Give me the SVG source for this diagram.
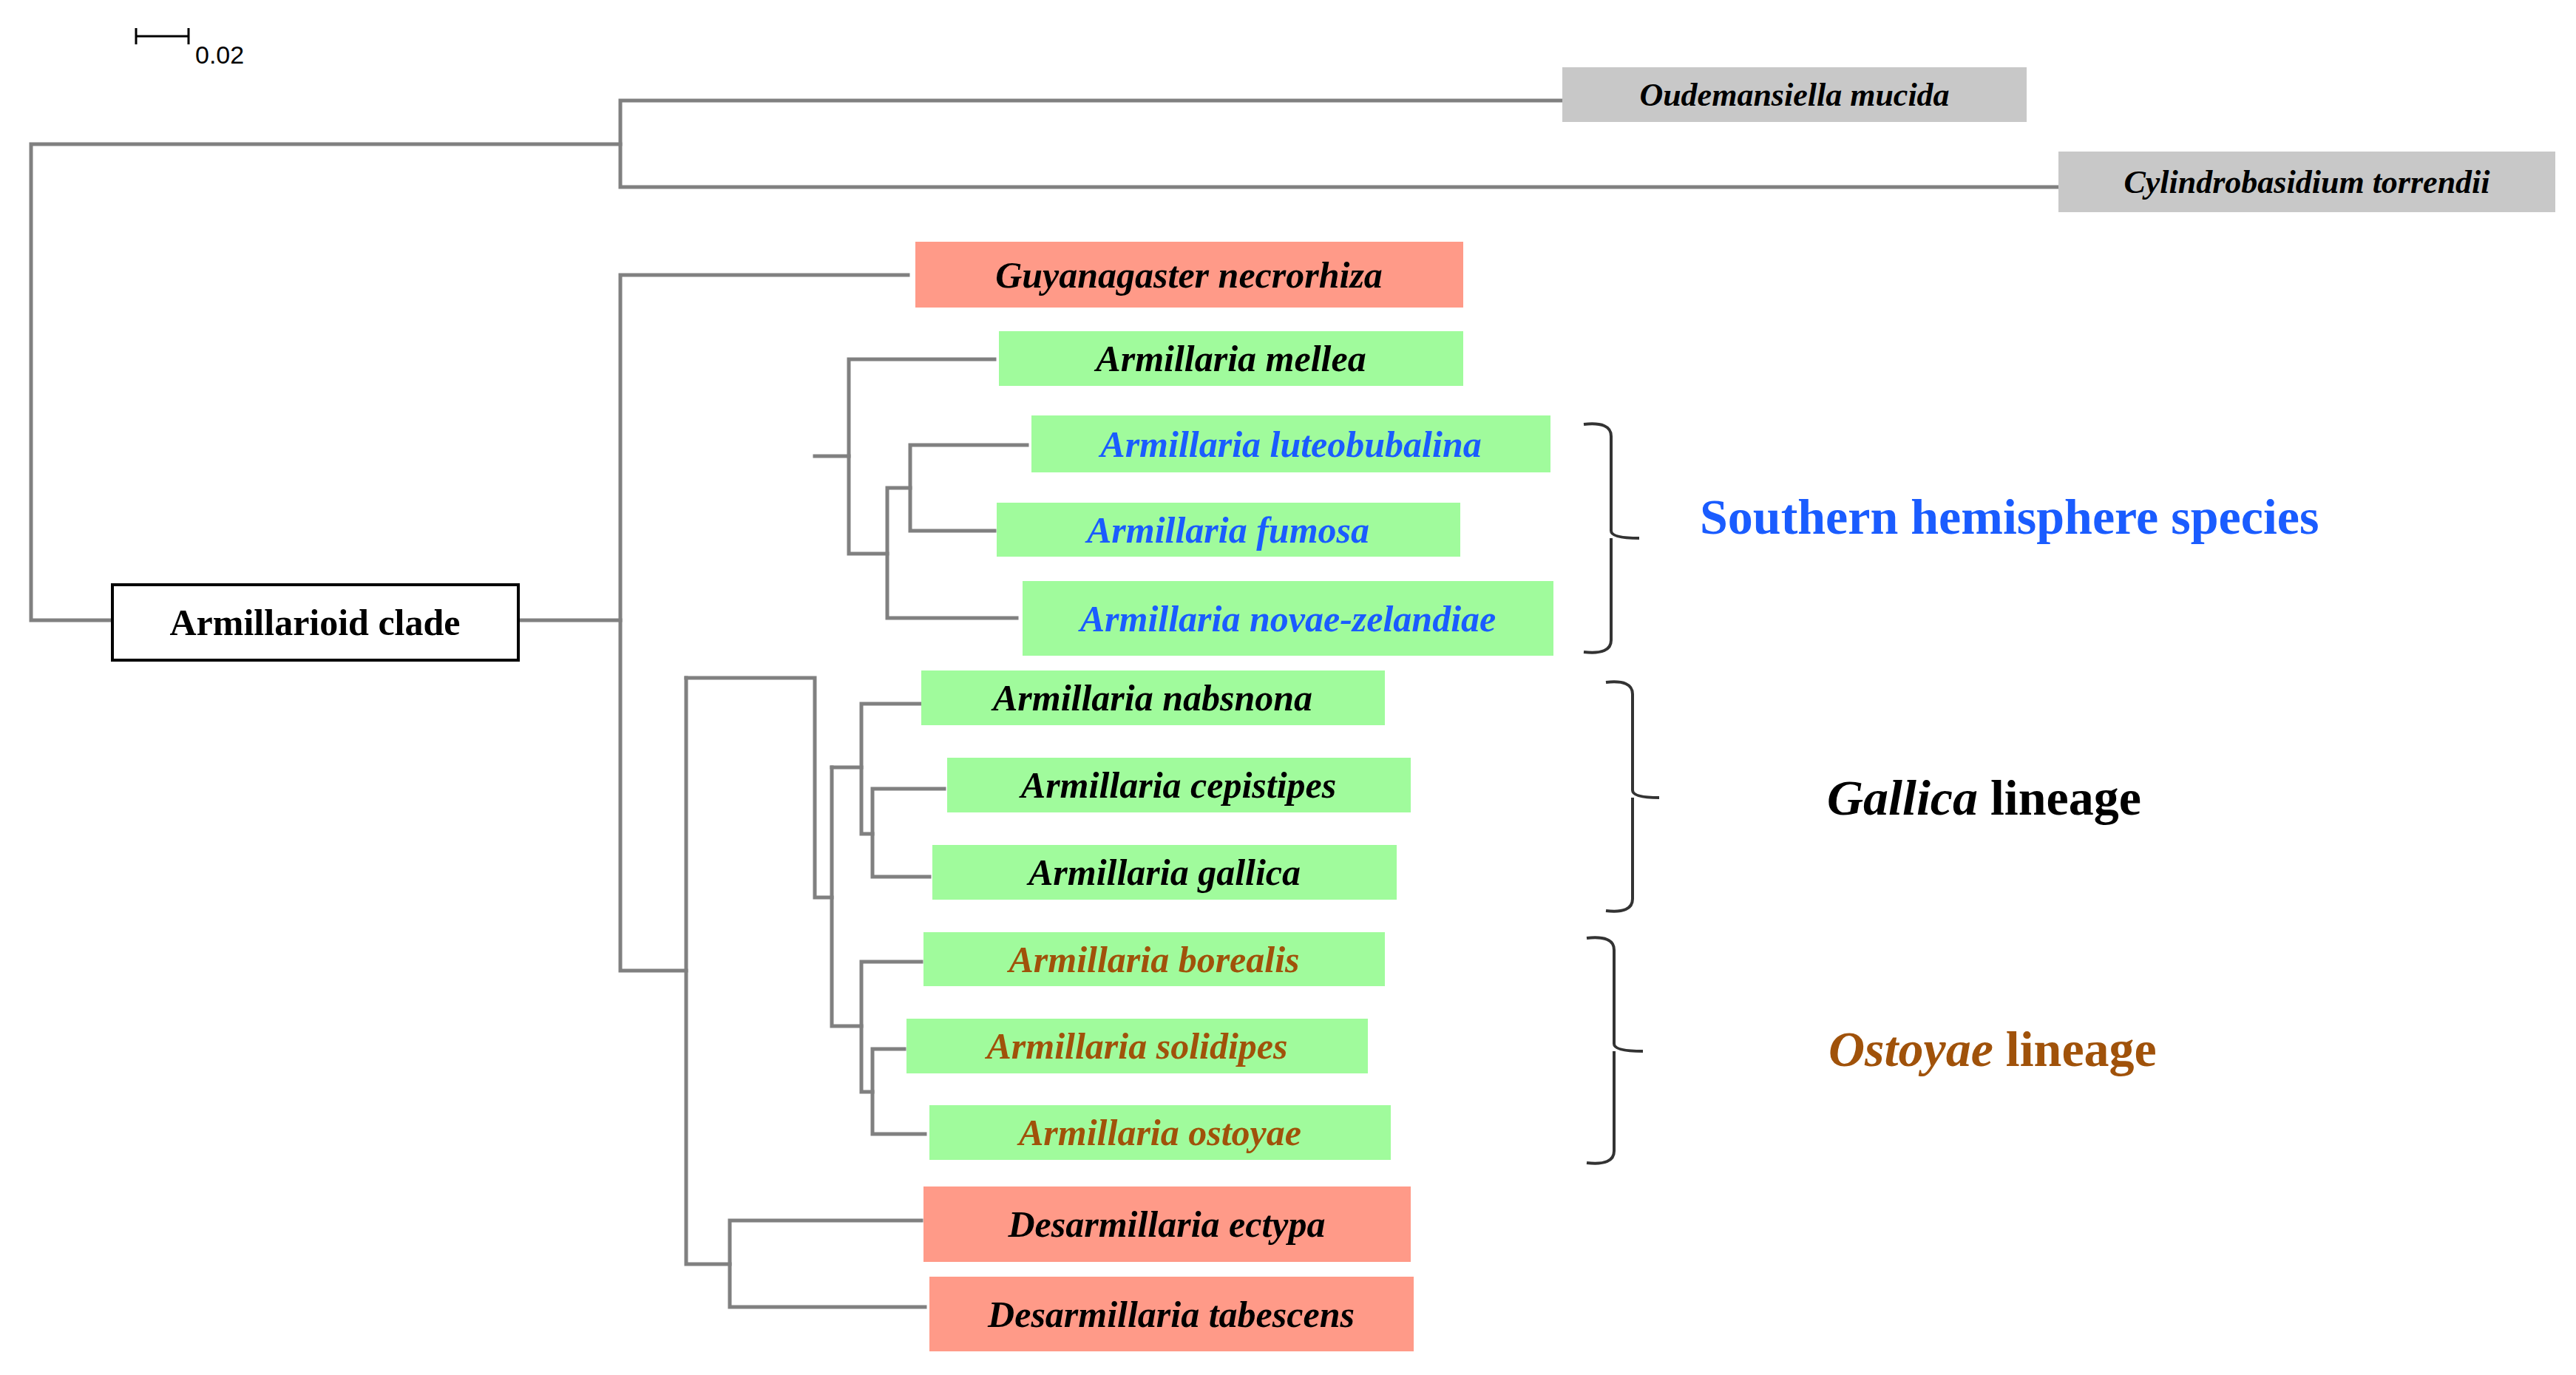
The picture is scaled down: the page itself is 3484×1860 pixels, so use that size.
<svg xmlns="http://www.w3.org/2000/svg" width="3484" height="1860" viewBox="0 0 3484 1860">
<style>
.br{fill:none;stroke:#808080;stroke-width:5;stroke-linecap:square}
.bk{fill:none;stroke:#333;stroke-width:4}
.g{fill:#a0fb9c}.r{fill:#ff9a88}.o{fill:#c8c8c8}
.t{font-family:"Liberation Serif",serif;font-weight:bold;font-style:italic;font-size:50px;text-anchor:middle}
.to{font-size:44px}
.blk{fill:#000}.blu{fill:#1a5cff}.brn{fill:#a0520a}
.lab{font-family:"Liberation Serif",serif;font-weight:bold;font-size:68px}
</style>
<g id="scale">
<path d="M184 49H255M184 38V60M255 38V60" fill="none" stroke="#000" stroke-width="3"/>
<text x="264" y="86" font-family="Liberation Sans,sans-serif" font-size="34">0.02</text>
</g>
<g id="connectors" class="br">
<path d="M839 195H42V839H152"/>
<path d="M701 839H839"/>
<path d="M2113 136H839V253H2784"/>
<path d="M1228 372H839V1313H928"/>
<path d="M928 917V1710H987"/>
<path d="M928 917H1102V1214H1125"/>
<path d="M1102 617H1148"/>
<path d="M1345 486H1148V749H1200"/>
<path d="M1231 660H1200V836H1375"/>
<path d="M1389 602H1231V718H1345"/>
<path d="M1125 1038V1388H1165"/>
<path d="M1125 1038H1165"/>
<path d="M1246 952H1165V1128H1180"/>
<path d="M1277 1067H1180V1186H1257"/>
<path d="M1246 1301H1165V1477H1180"/>
<path d="M1223 1419H1180V1534H1251"/>
<path d="M1246 1651H987V1768H1251"/>
</g>
<g id="n-oudemansiella"><rect class="o" x="2113" y="91" width="628" height="74"/><text class="t to blk" x="2427" y="143">Oudemansiella mucida</text></g>
<g id="n-cylindrobasidium"><rect class="o" x="2784" y="205" width="672" height="82"/><text class="t to blk" x="3120" y="261">Cylindrobasidium torrendii</text></g>
<g id="n-armillarioid"><rect x="152" y="791" width="549" height="102" fill="#fff" stroke="#000" stroke-width="4"/><text x="426" y="859" font-family="Liberation Serif,serif" font-weight="bold" font-size="50" text-anchor="middle">Armillarioid clade</text></g>
<g id="n-guyanagaster"><rect class="r" x="1238" y="327" width="741" height="89"/><text class="t blk" x="1608" y="389">Guyanagaster necrorhiza</text></g>
<g id="n-mellea"><rect class="g" x="1351" y="448" width="628" height="74"/><text class="t blk" x="1665" y="502">Armillaria mellea</text></g>
<g id="n-luteobubalina"><rect class="g" x="1395" y="562" width="702" height="77"/><text class="t blu" x="1746" y="618">Armillaria luteobubalina</text></g>
<g id="n-fumosa"><rect class="g" x="1348" y="680" width="627" height="73"/><text class="t blu" x="1661" y="734">Armillaria fumosa</text></g>
<g id="n-novaezelandiae"><rect class="g" x="1383" y="786" width="718" height="101"/><text class="t blu" x="1742" y="854">Armillaria novae-zelandiae</text></g>
<g id="n-nabsnona"><rect class="g" x="1246" y="907" width="627" height="74"/><text class="t blk" x="1559" y="961">Armillaria nabsnona</text></g>
<g id="n-cepistipes"><rect class="g" x="1281" y="1025" width="627" height="74"/><text class="t blk" x="1594" y="1079">Armillaria cepistipes</text></g>
<g id="n-gallica"><rect class="g" x="1261" y="1143" width="628" height="74"/><text class="t blk" x="1575" y="1197">Armillaria gallica</text></g>
<g id="n-borealis"><rect class="g" x="1249" y="1261" width="624" height="73"/><text class="t brn" x="1561" y="1315">Armillaria borealis</text></g>
<g id="n-solidipes"><rect class="g" x="1226" y="1378" width="624" height="74"/><text class="t brn" x="1538" y="1432">Armillaria solidipes</text></g>
<g id="n-ostoyae"><rect class="g" x="1257" y="1495" width="624" height="74"/><text class="t brn" x="1569" y="1549">Armillaria ostoyae</text></g>
<g id="n-ectypa"><rect class="r" x="1249" y="1605" width="659" height="102"/><text class="t blk" x="1578" y="1673">Desarmillaria ectypa</text></g>
<g id="n-tabescens"><rect class="r" x="1257" y="1727" width="655" height="101"/><text class="t blk" x="1584" y="1795">Desarmillaria tabescens</text></g>
<g id="brackets" class="bk">
<path d="M2142 574Q2179 570 2179 590V718Q2179 728 2217 728M2179 728V866Q2179 886 2142 882"/>
<path d="M2172 923Q2208 919 2208 939V1069Q2208 1079 2244 1079M2208 1079V1216Q2208 1236 2172 1232"/>
<path d="M2146 1269Q2183 1265 2183 1285V1412Q2183 1422 2222 1422M2183 1422V1557Q2183 1577 2146 1573"/>
</g>
<g id="group-labels">
<text class="lab blu" x="2299" y="722">Southern hemisphere species</text>
<text class="lab blk" x="2471" y="1102"><tspan font-style="italic">Gallica</tspan> lineage</text>
<text class="lab brn" x="2473" y="1442" fill="#b35c00"><tspan font-style="italic">Ostoyae</tspan> lineage</text>
</g>
</svg>
